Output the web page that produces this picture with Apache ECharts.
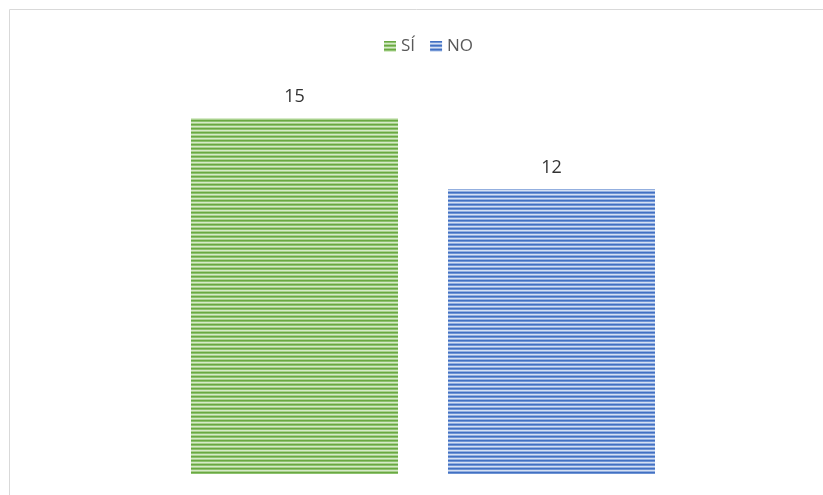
<!DOCTYPE html>
<html><head><meta charset="utf-8">
<script src="https://cdn.jsdelivr.net/npm/echarts@6/dist/echarts.min.js"></script>
<style>html,body{margin:0;padding:0;background:#fff}#c{width:823px;height:495px}</style>
</head><body><div id="c"></div>
<script>
var categories = [''];
var seriesNames = ['SÍ', 'NO'];
var siValues = [15];
var noValues = [12];

function stripe(colors) {
  var cv = document.createElement('canvas');
  cv.width = 4; cv.height = colors.length;
  var ctx = cv.getContext('2d');
  for (var i = 0; i < colors.length; i++) { ctx.fillStyle = colors[i]; ctx.fillRect(0, i, 4, 1); }
  return { image: cv, repeat: 'repeat' };
}
var greenPat = stripe(['#6aa842', '#8ec26f', '#d6eac8', '#a9d18e']);
var bluePat = stripe(['#4270c2', '#6f94d4', '#d5e0f3', '#93afe0']);

var chart = echarts.init(document.getElementById('c'), null, {renderer: 'canvas'});
var font = '"Open Sans", "Liberation Sans", sans-serif';
chart.setOption({
  animation: false,
  graphic: [{ type: 'rect', shape: { x: 9.5, y: 9.5, width: 900, height: 600 }, style: { fill: 'none', stroke: '#d9d9d9', lineWidth: 1 }, silent: true }],
  legend: {
    top: 33, left: 379,
    itemWidth: 12, itemHeight: 11, itemGap: 15,
    icon: 'rect',
    textStyle: { color: '#595959', fontSize: 17, fontFamily: font },
    data: [{ name: seriesNames[0], itemStyle: { color: greenPat } }, { name: seriesNames[1], itemStyle: { color: bluePat } }]
  },
  grid: { left: 100, right: 77, top: 94.3, bottom: 21 },
  xAxis: { type: 'category', data: categories, axisLine: { show: false }, axisTick: { show: false }, axisLabel: { show: false } },
  yAxis: { type: 'value', min: 0, max: 16, show: false, splitLine: { show: false } },
  series: [
    { name: seriesNames[0], type: 'bar', data: siValues, barWidth: 207, barGap: '24.15%', itemStyle: { color: greenPat },
      label: { show: true, position: 'top', distance: 12, color: '#333333', fontSize: 18, fontFamily: font } },
    { name: seriesNames[1], type: 'bar', data: noValues, barWidth: 207, itemStyle: { color: bluePat },
      label: { show: true, position: 'top', distance: 12, color: '#333333', fontSize: 18, fontFamily: font } }
  ]
});
</script></body></html>
